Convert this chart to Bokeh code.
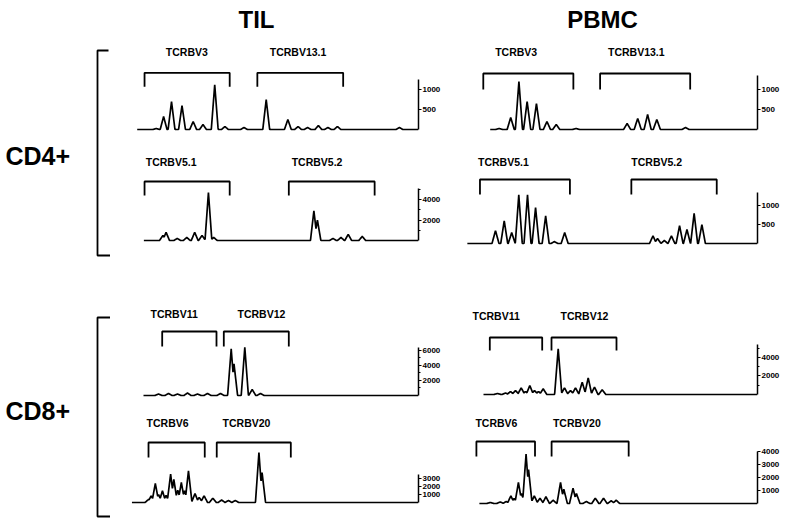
import numpy as np
from bokeh.plotting import figure
from bokeh.layouts import row, column
from bokeh.models import Range1d, LinearAxis, FixedTicker
from bokeh.core.properties import value
from bokeh.embed import file_html
from bokeh.resources import INLINE

FONT = "Liberation Sans"

# ------------------------------------------------------------------ data
col_titles = ["TIL", "PBMC"]
subset_labels = ["CD4+", "CD8+"]

# CD4+ upper row
til_r1_families = ["TCRBV3", "TCRBV13.1"]
til_r1_spans = [(145.7, 235), (264, 354)]
til_r1_label_x = [168, 277]
til_r1_peak_pos = [158, 165.7, 174, 185, 196.7, 207, 219.3, 230, 250, 273.3, 296, 306.7, 316.7, 328, 338, 348, 413]
til_r1_peak_h = [25, 325, 700, 600, 200, 125, 1125, 75, 50, 750, 250, 75, 50, 100, 50, 75, 50]
til_r1_ticks = [500, 1000]

pbmc_r1_families = ["TCRBV3", "TCRBV13.1"]
pbmc_r1_spans = [(483, 574), (601, 692)]
pbmc_r1_label_x = [495, 609]
pbmc_r1_peak_pos = [499, 510.7, 519, 527.3, 536.7, 547.3, 556.7, 576.7, 628.3, 639, 649, 658.3, 687.3]
pbmc_r1_peak_h = [25, 300, 1200, 700, 650, 200, 125, 25, 150, 275, 375, 250, 50]
pbmc_r1_ticks = [500, 1000]

# CD4+ lower row
til_r2_families = ["TCRBV5.1", "TCRBV5.2"]
til_r2_spans = [(145.7, 235), (297, 387)]
til_r2_label_x = [147, 300]
til_r2_peak_pos = [165, 168.3, 180, 190, 198.3, 206, 212.7, 218.3, 323.3, 327, 343.3, 351.7, 359.3, 374]
til_r2_peak_h = [500, 800, 200, 300, 800, 500, 4700, 300, 2900, 2000, 200, 300, 600, 400]
til_r2_ticks = [2000, 4000]

pbmc_r2_families = ["TCRBV5.1", "TCRBV5.2"]
pbmc_r2_spans = [(480, 572.7), (636, 724)]
pbmc_r2_label_x = [478, 636]
pbmc_r2_peak_pos = [496, 505, 512.7, 520, 529, 537.3, 547.7, 556.7, 567.3, 658.3, 663, 670, 677.3, 685.7, 693.3, 700.7, 708.7]
pbmc_r2_peak_h = [340, 600, 290, 1290, 1290, 950, 730, 50, 290, 200, 130, 80, 200, 470, 370, 800, 500]
pbmc_r2_ticks = [500, 1000]

# CD8+ upper row
til_r3_families = ["TCRBV11", "TCRBV12"]
til_r3_spans = [(161.7, 216), (223.3, 288.3)]
til_r3_label_x = [150, 237]
til_r3_peak_pos = [158, 168, 177, 187, 197, 207, 220, 230.7, 233.5, 244.3, 251.7, 260]
til_r3_peak_h = [200, 270, 200, 330, 200, 270, 270, 6200, 4200, 6400, 800, 270]
til_r3_ticks = [2000, 4000, 6000]

pbmc_r3_families = ["TCRBV11", "TCRBV12"]
pbmc_r3_spans = [(489.3, 541.7), (551, 616)]
pbmc_r3_label_x = [472, 560]
pbmc_r3_peak_pos = [497, 505, 510, 515, 520.7, 525, 529.3, 534, 538, 542.7, 557.7, 564, 570, 575, 581.7, 587.7, 594, 601.7]
pbmc_r3_peak_h = [110, 160, 320, 430, 720, 320, 970, 430, 320, 620, 4940, 720, 430, 720, 1330, 1800, 790, 510]
pbmc_r3_ticks = [2000, 4000]

# CD8+ lower row
til_r4_families = ["TCRBV6", "TCRBV20"]
til_r4_spans = [(149, 206.7), (219, 295)]
til_r4_label_x = [147, 225]
til_r4_peak_pos = [149, 151.7, 156, 159.3, 163.3, 167, 171.7, 175, 179, 182.7, 186, 190, 196.7, 201, 206, 215, 224, 231, 238, 262.3, 265.5]
til_r4_peak_h = [380, 840, 2380, 1000, 1460, 880, 3540, 2880, 1540, 2500, 1460, 3960, 1130, 630, 840, 540, 310, 250, 250, 6250, 3750]
til_r4_ticks = [1000, 2000, 3000]

pbmc_r4_families = ["TCRBV6", "TCRBV20"]
pbmc_r4_spans = [(476, 535), (551.7, 629.3)]
pbmc_r4_label_x = [475, 553]
pbmc_r4_peak_pos = [490, 500, 506, 510.7, 514, 518.3, 521.3, 526, 528.5, 534.3, 540, 546, 553.3, 560.7, 564, 573.3, 576.7, 586.7, 595.7, 604, 611.7, 616.7]
pbmc_r4_peak_h = [80, 120, 150, 590, 390, 1620, 770, 3800, 2620, 590, 410, 520, 250, 1620, 1100, 1180, 770, 150, 410, 410, 210, 250]
pbmc_r4_ticks = [1000, 2000, 3000, 4000]

# ------------------------------------------------------------------ layout / style
ROWS = [(40, 148), (148, 260), (260, 405), (405, 519)]
COLS = [(110, 352), (462, 330)]  # (left, width)

panels = [
    [  # TIL
        dict(fam=til_r1_families, spans=til_r1_spans, lx=til_r1_label_x, pos=til_r1_peak_pos, h=til_r1_peak_h,
             ticks=til_r1_ticks, minor=[], base=129.5, s=25, x0=138, ax=433, top=1250, bt=57, be=43, lp=78),
        dict(fam=til_r2_families, spans=til_r2_spans, lx=til_r2_label_x, pos=til_r2_peak_pos, h=til_r2_peak_h,
             ticks=til_r2_ticks, minor=[1000, 3000, 5000], base=240, s=98, x0=145, ax=433, top=5100, bt=59, be=45, lp=79),
        dict(fam=til_r3_families, spans=til_r3_spans, lx=til_r3_label_x, pos=til_r3_peak_pos, h=til_r3_peak_h,
             ticks=til_r3_ticks, minor=[1000, 3000, 5000], base=395, s=133, x0=143, ax=418, top=6400, bt=64, be=49, lp=82),
        dict(fam=til_r4_families, spans=til_r4_spans, lx=til_r4_label_x, pos=til_r4_peak_pos, h=til_r4_peak_h,
             ticks=til_r4_ticks, minor=[], base=502, s=125, x0=132, ax=426, top=3550, bt=60, be=45, lp=80),
    ],
    [  # PBMC
        dict(fam=pbmc_r1_families, spans=pbmc_r1_spans, lx=pbmc_r1_label_x, pos=pbmc_r1_peak_pos, h=pbmc_r1_peak_h,
             ticks=pbmc_r1_ticks, minor=[], base=129, s=25, x0=490, ax=760, top=1350, bt=56, be=40, lp=78),
        dict(fam=pbmc_r2_families, spans=pbmc_r2_spans, lx=pbmc_r2_label_x, pos=pbmc_r2_peak_pos, h=pbmc_r2_peak_h,
             ticks=pbmc_r2_ticks, minor=[], base=243, s=26.5, x0=467, ax=766, top=1350, bt=64, be=49, lp=82),
        dict(fam=pbmc_r3_families, spans=pbmc_r3_spans, lx=pbmc_r3_label_x, pos=pbmc_r3_peak_pos, h=pbmc_r3_peak_h,
             ticks=pbmc_r3_ticks, minor=[1000, 3000, 5000], base=394, s=108, x0=483, ax=757, top=5450, bt=57, be=44, lp=79),
        dict(fam=pbmc_r4_families, spans=pbmc_r4_spans, lx=pbmc_r4_label_x, pos=pbmc_r4_peak_pos, h=pbmc_r4_peak_h,
             ticks=pbmc_r4_ticks, minor=[], base=503, s=77, x0=479, ax=759, top=4000, bt=62, be=47, lp=81),
    ],
]

HW = 3.6  # half width of a drawn peak


def trace(x0, x1, pos, hts):
    xs = np.unique(np.concatenate([np.arange(x0, x1 + 0.01, 0.25), np.asarray(pos, float)]))
    ys = np.zeros_like(xs)
    for c, hh in zip(pos, hts):
        ys = np.maximum(ys, hh * np.clip(1 - np.abs(xs - c) / HW, 0, None))
    return xs, ys


def clean(p):
    p.grid.visible = False
    p.outline_line_color = None
    p.background_fill_color = "white"
    p.border_fill_color = "white"


def make_panel(cfg, left, width, rtop, rbot):
    s = cfg["s"]
    base = cfg["base"]
    fbot = base + 3
    p = figure(width=width, height=rbot - rtop, output_backend="svg", toolbar_location=None,
               x_axis_location=None, y_axis_location=None,
               min_border_left=0, min_border_right=int(round(left + width - cfg["ax"])),
               min_border_top=0, min_border_bottom=int(round(rbot - fbot)),
               x_range=Range1d(left, cfg["ax"]), y_range=Range1d(-3 * s, (base - rtop) * s))
    clean(p)
    ax = LinearAxis(ticker=FixedTicker(ticks=cfg["ticks"], minor_ticks=cfg["minor"]),
                    bounds=(0, cfg["top"]), axis_line_width=1.5, axis_line_color="black",
                    major_tick_out=3, major_tick_in=0, major_tick_line_width=1.2,
                    major_tick_line_color="black", minor_tick_line_color="black",
                    minor_tick_out=2, minor_tick_in=0, minor_tick_line_width=1,
                    major_label_text_font=FONT, major_label_text_font_size="8px",
                    major_label_text_color="black",
                    major_label_text_font_style="bold", major_label_standoff=1)
    p.add_layout(ax, "right")
    xs, ys = trace(cfg["x0"], cfg["ax"], cfg["pos"], cfg["h"])
    p.line(xs, ys, line_width=1.7, color="black")
    bt, be = cfg["bt"] * s, cfg["be"] * s
    p.multi_line([[a, a, b, b] for a, b in cfg["spans"]], [[be, bt, bt, be] for _ in cfg["spans"]],
                 line_width=1.8, color="black")
    p.text(x=cfg["lx"], y=[cfg["lp"] * s] * len(cfg["fam"]), text=cfg["fam"],
           text_font=value(FONT), text_font_style="bold", text_font_size="10.5px",
           text_baseline="middle", text_align="left", text_color="black")
    return p


# left strip with subset labels and brackets
left = figure(width=110, height=519, output_backend="svg", toolbar_location=None,
              x_axis_location=None, y_axis_location=None, min_border=0,
              x_range=Range1d(0, 110), y_range=Range1d(519, 0))
clean(left)
left.text(x=[5, 5], y=[155, 410], text=subset_labels, text_font=value(FONT), text_font_style="bold",
          text_font_size="25px", text_baseline="middle", text_align="left", text_color="black")
left.multi_line([[108, 97, 97, 110], [110, 97, 97, 110]], [[50, 50, 255, 255], [317, 317, 516, 516]],
                line_width=1.8, color="black")

# header with column titles
header = figure(width=682, height=40, output_backend="svg", toolbar_location=None,
                x_axis_location=None, y_axis_location=None, min_border=0,
                x_range=Range1d(110, 792), y_range=Range1d(40, 0))
clean(header)
header.text(x=[256, 602], y=[19, 19], text=col_titles, text_font=value(FONT), text_font_style="bold",
            text_font_size="24px", text_baseline="middle", text_align="center", text_color="black")

cols = []
for ci, (cl, cw) in enumerate(COLS):
    figs = [make_panel(panels[ci][ri], cl, cw, ROWS[ri][0], ROWS[ri][1]) for ri in range(4)]
    cols.append(column(*figs, spacing=0))

layout = row(left, column(header, row(*cols, spacing=0), spacing=0), spacing=0)

open("out.html", "w").write(file_html(layout, INLINE))
